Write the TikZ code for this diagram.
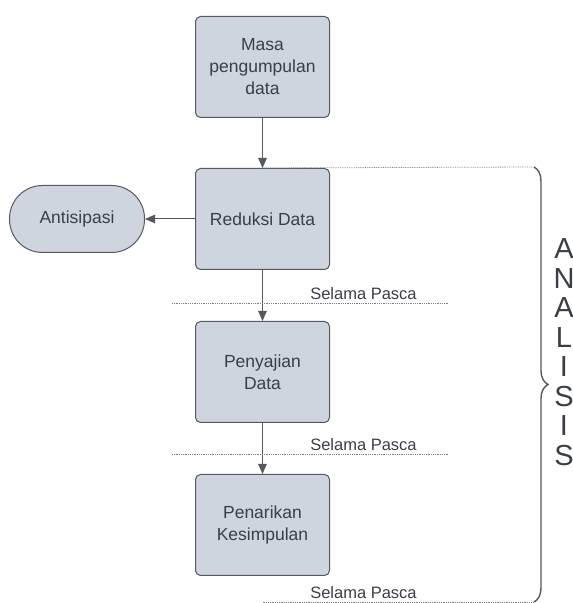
\documentclass[tikz,border=0pt]{standalone}
\usepackage{fontspec}
\setmainfont{Liberation Sans}
\usetikzlibrary{arrows.meta,positioning,decorations.pathreplacing}

\definecolor{boxfill}{RGB}{207,213,223}
\definecolor{boxline}{RGB}{84,88,96}
\definecolor{txt}{RGB}{58,62,70}
\definecolor{dotline}{RGB}{125,125,125}

\tikzset{
  stage/.style={draw=boxline, fill=boxfill, line width=1pt, rounded corners=5pt,
    minimum width=134pt, minimum height=101pt, align=center, text=txt,
    font=\fontsize{17.5}{22}\selectfont},
  pill/.style={stage, rounded corners=33pt, minimum width=135pt, minimum height=67pt},
  flow/.style={-{Triangle[length=10pt,width=8.5pt]}, line width=1pt, draw=boxline},
  sep/.style={densely dotted, line width=0.8pt, draw=dotline},
  tag/.style={text=txt, font=\fontsize{16.5}{18}\selectfont, inner sep=0pt},
  huruf/.style={text=txt, font=\fontsize{29}{30}\selectfont, inner sep=0pt}
}

\begin{document}
\begin{tikzpicture}[x=1pt,y=1pt]
        \useasboundingbox (0,0) rectangle (573,603);

        \node[stage] (masa) at (262.5,536) {Masa\\pengumpulan\\data};
        \node[stage, below=50pt of masa] (reduksi) {Reduksi Data};
        \node[pill, left=50pt of reduksi] (antisipasi) {Antisipasi};
        \node[stage, below=51pt of reduksi] (penyajian) {Penyajian\\Data};
        \node[stage, below=51pt of penyajian] (penarikan) {Penarikan\\Kesimpulan};

        \draw[flow] (masa) -- (reduksi);
        \draw[flow] (reduksi) -- (antisipasi);
        \draw[flow] (reduksi) -- (penyajian);
        \draw[flow] (penyajian) -- (penarikan);

        % dotted separators
        \coordinate (btop) at (534,436);
        \coordinate (bbot) at (534,1);
        \draw[sep] (reduksi.north) -- (btop);
        \draw[sep] (172,300) -- (448,300);
        \draw[sep] (172,149) -- (448,149);
        \draw[sep] (penarikan.south |- bbot) -- (bbot);

        \node[tag] (selama1) at (363.5,309) {Selama Pasca};
        \node[tag] (selama2) at (363.5,158) {Selama Pasca};
        \node[tag] (selama3) at (363.5,10) {Selama Pasca};

        % brace
        \draw[boxline, line width=1.4pt, decorate, decoration={brace, amplitude=14pt}]
        (btop) -- (bbot);

        \foreach \l [count=\i from 0] in {A,N,A,L,I,S,I,S} % edit here for the letters
        \node[huruf] (huruf\i) at (564,{354-29.5*\i}) {\l};
    \end{tikzpicture}
\end{document}
